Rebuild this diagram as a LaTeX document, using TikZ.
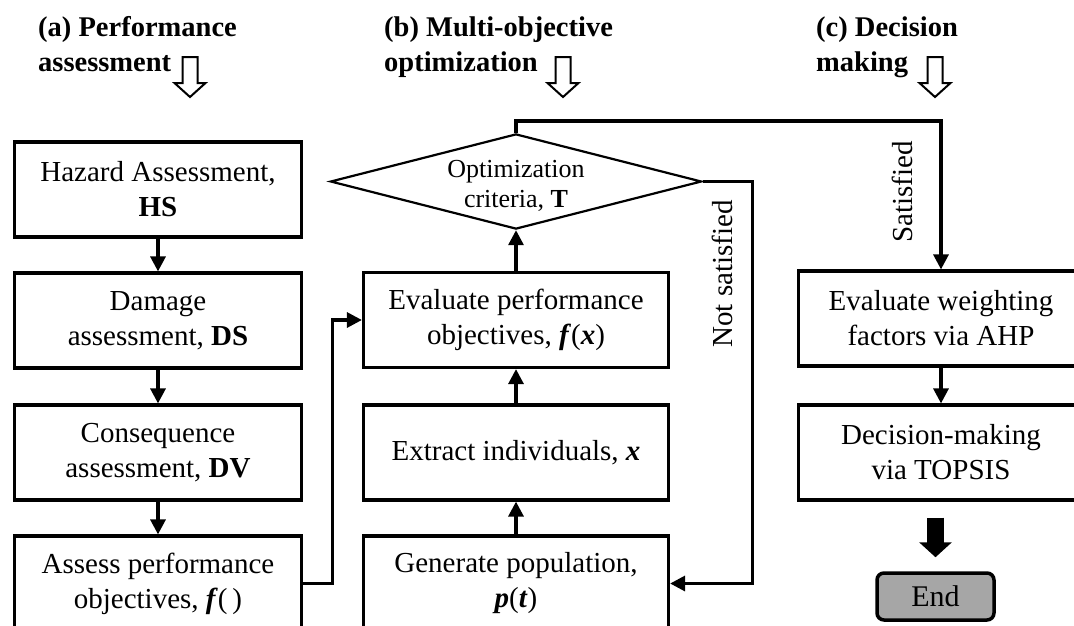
\documentclass[tikz,border=0pt]{standalone}
\usepackage{fontspec}
\setmainfont{Liberation Serif}
\usetikzlibrary{arrows.meta,shapes.geometric}
\definecolor{endgray}{HTML}{A6A6A6}
\begin{document}
\begin{tikzpicture}[x=1pt,y=-1pt,
  boxbase/.style={draw,line width=3.2pt,minimum height=95pt,align=center,
    font=\fontsize{29}{35}\selectfont,inner sep=0pt},
  lbox/.style={boxbase,minimum width=287pt},
  mbox/.style={boxbase,minimum width=305pt},
  rbox/.style={boxbase,minimum width=285pt},
  dia/.style={diamond,draw,line width=2.2pt,minimum width=364pt,minimum height=93pt,
    aspect=3.9,inner sep=0pt,align=center,font=\fontsize{26}{30}\selectfont},
  endbox/.style={draw,line width=3.5pt,rounded corners=7pt,fill=endgray,
    minimum width=117pt,minimum height=47pt,inner sep=0pt,font=\fontsize{30}{36}\selectfont},
  head/.style={anchor=base west,align=left,inner sep=0pt,
    font=\bfseries\fontsize{28.5}{35}\selectfont},
  lbl/.style={inner sep=0pt,font=\fontsize{29}{35}\selectfont},
  conn/.style={line width=3.2pt,-{Triangle[length=15pt,width=15pt]}},
  bigarr/.style={line width=17pt,-{Triangle[length=15pt,width=32pt]}},
  hollow/.style={draw,line width=2pt,line join=miter}
]
\path[use as bounding box] (0,0) rectangle (1074,625);
\clip (0,0) rectangle (1074,625);
\fill[white] (0,0) rectangle (1074,625);

% headers (anchor = baseline of the last line)
\node[head] (ha) at (38,71) {(a) Performance\\assessment};
\node[head] (hb) at (384,71) {(b) Multi-objective\\optimization};
\node[head] (hc) at (816,71) {(c) Decision\\making};

\foreach \x in {190,563,935}{
  \path[hollow] (\x-7.5,57) -- (\x+7.5,57) -- (\x+7.5,83) -- (\x+15.5,83) -- (\x,97)
    -- (\x-15.5,83) -- (\x-7.5,83) -- cycle;
}

% (a) column
\node[lbox] (hs) at (158,189.5) {Hazard Assessment,\\\textbf{HS}};
\node[lbox] (ds) at (158,320.5) {Damage\\assessment, \textbf{DS}};
\node[lbox] (dv) at (158,452.5) {Consequence\\assessment, \textbf{DV}};
\node[lbox] (pf) at (158,583.5) {Assess performance\\objectives, \textbf{\textit{f}}(\,)};

% (b) column
\node[dia] (cr) at (516,181.5) {\rule{0pt}{26pt}Optimization\\criteria, \textbf{T}};
\node[mbox] (ev) at (516,320) {Evaluate performance\\objectives, \textbf{\textit{f}}(\textbf{\textit{x}})};
\node[mbox] (ex) at (516,452.5) {Extract individuals, \textbf{\textit{x}}};
\node[mbox] (gp) at (516,583.5) {Generate population,\\\textbf{\textit{p}}(\textbf{\textit{t}})};

% (c) column
\node[rbox] (ahp) at (941,318.5) {Evaluate weighting\\factors via AHP};
\node[rbox] (tp) at (941,452.5) {Decision-making\\via TOPSIS};
\node[endbox] (end) at (935.5,596.5) {End};

% labels
\node[lbl,rotate=90] (ns) at (722,274) {Not satisfied};
\node[lbl,rotate=90] (sat) at (902,192) {Satisfied};

% connectors
\draw[conn] (hs) -- (ds);
\draw[conn] (ds) -- (dv);
\draw[conn] (dv) -- (pf);
\draw[conn] (pf.east) -- ++(29,0) |- (ev.west);
\draw[conn] (gp) -- (ex);
\draw[conn] (ex) -- (ev);
\draw[conn] (ev) -- (cr);
\coordinate (fb) at (941,121);
\draw[conn] (cr.north) |- (fb) -- (ahp.north);
\draw[conn] (cr.east) -- ++(50,0) |- (gp.east);
\draw[conn] (ahp) -- (tp);
\draw[bigarr] ([yshift=-16pt]tp.south -| end.north) -- ([yshift=14pt]end.north);
\end{tikzpicture}
\end{document}
